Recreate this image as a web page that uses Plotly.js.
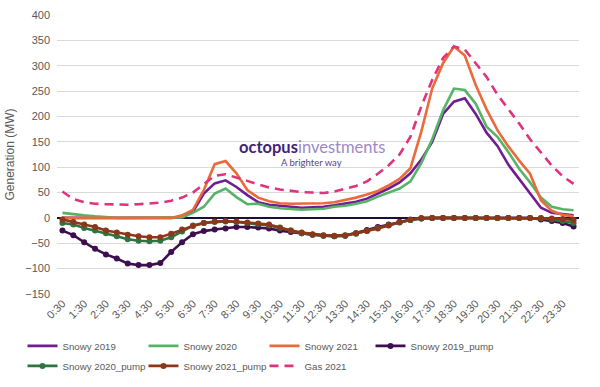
<!DOCTYPE html>
<html>
<head>
<meta charset="utf-8">
<script src="https://cdn.plot.ly/plotly-3.0.1.min.js"></script>
<style>html,body{margin:0;padding:0;background:#fff;}#chart{width:600px;height:387px;}</style>
</head>
<body>
<div id="chart"></div>
<script>
const times = ["0:30","1:00","1:30","2:00","2:30","3:00","3:30","4:00","4:30","5:00","5:30","6:00",
  "6:30","7:00","7:30","8:00","8:30","9:00","9:30","10:00","10:30","11:00","11:30","12:00",
  "12:30","13:00","13:30","14:00","14:30","15:00","15:30","16:00","16:30","17:00","17:30","18:00",
  "18:30","19:00","19:30","20:00","20:30","21:00","21:30","22:00","22:30","23:00","23:30","0:00"];
const tickLabels = ["0:30","1:30","2:30","3:30","4:30","5:30","6:30","7:30","8:30","9:30","10:30","11:30",
  "12:30","13:30","14:30","15:30","16:30","17:30","18:30","19:30","20:30","21:30","22:30","23:30"];

const snowy2019 = [0,0,0,0,0,0,0,0,0,0,0,2,12,48,68,74,61,45,31,26,24,22,20,21,22,25,28,32,38,48,58,70,88,115,150,205,229,236,205,168,142,105,76,48,20,10,7,5];
const snowy2020 = [10,7,5,3,1,0,0,0,0,0,0,1,10,22,48,58,41,27,28,22,19,17,16,17,18,22,24,28,33,42,50,58,72,108,155,212,255,252,225,180,160,130,97,70,40,22,17,15];
const snowy2021 = [0,0,0,0,0,0,0,0,0,0,0,5,16,55,106,112,88,55,40,33,29,28,28,28,29,31,35,40,46,53,64,77,98,170,255,305,338,320,262,214,173,141,113,87,35,14,6,3];
const snowy2019Pump = [-25,-34,-48,-61,-72,-80,-90,-93,-93,-89,-67,-48,-32,-26,-23,-21,-18,-18,-19,-21,-25,-28,-30,-33,-35,-36,-35,-30,-24,-18,-13,-8,-4,-1,0,0,0,0,0,0,0,0,0,0,-3,-6,-10,-17];
const snowy2020Pump = [-10,-13,-20,-25,-30,-36,-42,-45,-46,-45,-38,-27,-15,-10,-8,-7,-8,-10,-12,-15,-20,-25,-30,-33,-35,-36,-35,-31,-26,-20,-14,-9,-4,-1,0,0,0,0,0,0,0,0,0,0,-1,-3,-6,-10];
const snowy2021Pump = [-3,-8,-13,-18,-25,-29,-33,-36,-38,-38,-31,-23,-16,-10,-7,-6,-7,-9,-11,-13,-19,-25,-29,-32,-34,-35,-34,-30,-26,-21,-15,-8,-3,0,0,0,0,0,0,0,0,0,0,0,0,-1,-2,-4];
const gas2021 = [52,37,31,28,27,26,26,27,28,30,34,40,50,66,83,86,80,73,66,60,56,53,51,50,49,52,57,63,72,87,104,125,160,220,272,315,338,332,305,278,243,215,186,155,128,103,82,67];

function lineTrace(name, y, color, leg, dash) {
  return {x: times, y: y, name: name, type: 'scatter', mode: 'lines', legend: leg,
    line: {color: color, width: 2.6, dash: dash || 'solid'}};
}
function pumpTrace(name, y, color, leg) {
  return {x: times, y: y, name: name, type: 'scatter', mode: 'lines+markers', legend: leg,
    line: {color: color, width: 2.6}, marker: {color: color, size: 6}};
}

const data = [
  lineTrace('Snowy 2019', snowy2019, '#6f1d91', 'legend'),
  lineTrace('Snowy 2020', snowy2020, '#57b368', 'legend'),
  lineTrace('Snowy 2021', snowy2021, '#ea6a3b', 'legend'),
  pumpTrace('Snowy 2019_pump', snowy2019Pump, '#3d0f4e', 'legend2'),
  pumpTrace('Snowy 2020_pump', snowy2020Pump, '#2f7441', 'legend3'),
  pumpTrace('Snowy 2021_pump', snowy2021Pump, '#8c3719', 'legend3'),
  lineTrace('Gas 2021', gas2021, '#e0327d', 'legend3', '9px,6px')
];

const legFont = {size: 9.7, color: '#595959', family: 'Liberation Sans, Arial, sans-serif'};
const legBg = 'rgba(0,0,0,0)';
const layout = {
  width: 600, height: 387,
  margin: {l: 57, r: 21, t: 15, b: 93},
  paper_bgcolor: '#ffffff', plot_bgcolor: '#ffffff',
  font: {family: 'Liberation Sans, Arial, sans-serif', size: 11, color: '#595959'},
  showlegend: true,
  xaxis: {
    type: 'category', tickmode: 'array', tickvals: tickLabels, ticktext: tickLabels,
    tickangle: -45, showgrid: false, zeroline: false, showline: false, ticks: '',
    tickfont: {size: 11, color: '#595959'}, range: [-0.5, 47.5]
  },
  yaxis: {
    range: [-150, 400], dtick: 50, tick0: 0, showgrid: true, gridcolor: '#d9d9d9', gridwidth: 1,
    zeroline: true, zerolinecolor: '#1e0f38', zerolinewidth: 2.5, ticks: '',
    tickfont: {size: 11, color: '#595959'}, ticklabelstandoff: 6,
    title: {text: 'Generation (MW)', font: {size: 12, color: '#595959'}, standoff: 8}
  },
  legend: {
    orientation: 'h', xref: 'container', yref: 'container', x: 0.0375, xanchor: 'left', y: 0.1437, yanchor: 'top',
    font: legFont, itemwidth: 30, entrywidth: 76, entrywidthmode: 'pixels', traceorder: 'normal', bgcolor: legBg
  },
  legend2: {
    orientation: 'h', xref: 'container', yref: 'container', x: 0.6175, xanchor: 'left', y: 0.1437, yanchor: 'top',
    font: legFont, itemwidth: 30, bgcolor: legBg
  },
  legend3: {
    orientation: 'h', xref: 'container', yref: 'container', x: 0.0375, xanchor: 'left', y: 0.092, yanchor: 'top',
    font: legFont, itemwidth: 30, entrywidth: 76, entrywidthmode: 'pixels', traceorder: 'normal', bgcolor: legBg
  },
  annotations: [
    {xref: 'paper', yref: 'paper', x: 0.488, y: 0.526, showarrow: false,
     text: '<span style="color:#41227a"><b>octopus</b></span><span style="color:#9d89c6">investments</span>',
     font: {family: 'Lato, Open Sans, sans-serif', size: 16.5}},
    {xref: 'paper', yref: 'paper', x: 0.488, y: 0.472, showarrow: false,
     text: 'A brighter way', font: {family: 'Lato, Open Sans, sans-serif', size: 9.5, color: '#5b3f92'}}
  ]
};

Plotly.newPlot('chart', data, layout, {displayModeBar: false, staticPlot: true});
</script>
</body>
</html>
